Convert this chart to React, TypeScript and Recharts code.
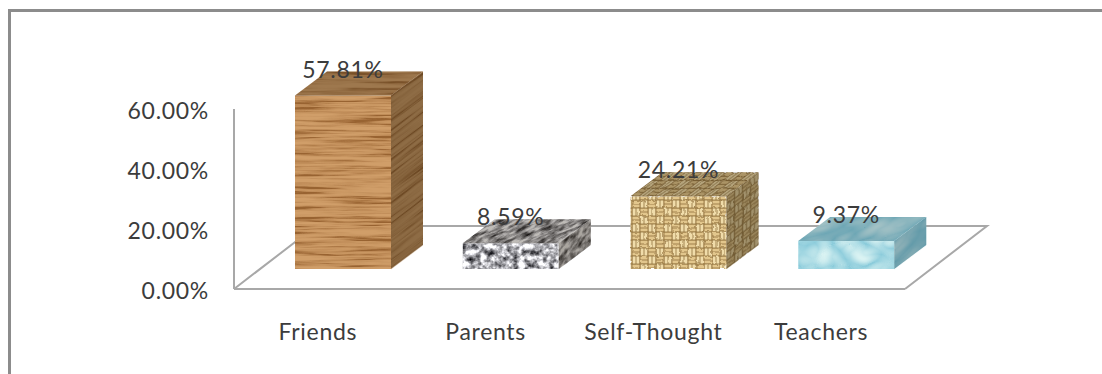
import { Bar, BarChart, LabelList, XAxis, YAxis, usePlotArea } from "recharts";

const categories = ["Friends", "Parents", "Self-Thought", "Teachers"];
const shares = [57.81, 8.59, 24.21, 9.37];
const yTicks = [0, 20, 40, 60];
const textures = ["wood", "granite", "weave", "water"];

const chartData = categories.map((name, i) => ({ name, share: shares[i], texture: textures[i] }));

const FONT = "Lato, sans-serif";
const LINE = "#a8a8a8";
const TEXT = "#3c3c3c";

// oblique offset of the box depth, and of the floor depth
const DEPTH_X = 32;
const DEPTH_Y = 24;
const FLOOR_X = 82;
const FLOOR_Y = 63;
// bars stand part way back on the floor
const BAR_SHIFT_X = 25;
const BAR_SHIFT_Y = -20;

const percent = (v: number) => `${v.toFixed(2)}%`;

const tickStyle = { fontFamily: FONT, fontSize: 23, letterSpacing: 0.7, fill: TEXT };

function Textures() {
  return (
    <defs>
      <filter id="wood" x="0" y="0" width="1" height="1" colorInterpolationFilters="sRGB">
        <feTurbulence type="fractalNoise" baseFrequency="0.012 0.3" numOctaves={4} seed={12} />
        <feColorMatrix
          type="matrix"
          values="0 0 0 0 0  0 0 0 0 0  0 0 0 0 0  1.6 0 0 0 -0.15"
          result="alpha"
        />
        <feComponentTransfer in="alpha" result="streaks">
          <feFuncA type="table" tableValues="0 0 0 0.1 0.32 0.8" />
        </feComponentTransfer>
        <feFlood floodColor="#d09e69" result="base" />
        <feFlood floodColor="#8a5423" />
        <feComposite in2="streaks" operator="in" result="dark" />
        <feMerge result="all">
          <feMergeNode in="base" />
          <feMergeNode in="dark" />
        </feMerge>
        <feComposite in="all" in2="SourceAlpha" operator="in" />
      </filter>
      <filter id="granite" x="0" y="0" width="1" height="1" colorInterpolationFilters="sRGB">
        <feTurbulence type="fractalNoise" baseFrequency="0.16" numOctaves={3} seed={11} />
        <feColorMatrix
          type="matrix"
          values="1.7 0 0 0 -0.17  1.7 0 0 0 -0.17  1.7 0 0 0 -0.15  0 0 0 0 1"
          result="all"
        />
        <feComposite in="all" in2="SourceAlpha" operator="in" />
      </filter>
      <filter id="water" x="0" y="0" width="1" height="1" colorInterpolationFilters="sRGB">
        <feTurbulence type="turbulence" baseFrequency="0.03 0.045" numOctaves={2} seed={4} />
        <feColorMatrix
          type="matrix"
          values="0.5 0 0 0 0.55  0.25 0 0 0 0.8  0.15 0 0 0 0.86  0 0 0 0 1"
          result="all"
        />
        <feComposite in="all" in2="SourceAlpha" operator="in" />
      </filter>
      <filter id="weaveMottle" x="0" y="0" width="1" height="1" colorInterpolationFilters="sRGB">
        <feTurbulence type="fractalNoise" baseFrequency="0.2" numOctaves={2} seed={3} result="noise" />
        <feDisplacementMap in="SourceGraphic" in2="noise" scale={3} />
      </filter>
      <pattern id="weaveTile" width="16" height="16" patternUnits="userSpaceOnUse">
        <rect width="16" height="16" fill="#8f6f3a" />
        <g fill="#e2c68c">
          <rect x="0.4" y="0.6" width="7.2" height="3" />
          <rect x="0.4" y="4.4" width="7.2" height="3" />
          <rect x="8.4" y="8.6" width="7.2" height="3" />
          <rect x="8.4" y="12.4" width="7.2" height="3" />
        </g>
        <g fill="#f0dcaa">
          <rect x="8.6" y="0.4" width="3" height="7.2" />
          <rect x="12.4" y="0.4" width="3" height="7.2" />
          <rect x="0.6" y="8.4" width="3" height="7.2" />
          <rect x="4.4" y="8.4" width="3" height="7.2" />
        </g>
      </pattern>
    </defs>
  );
}

function Floor() {
  const plot = usePlotArea();
  if (!plot) return null;
  const left = plot.x;
  const right = plot.x + plot.width;
  const bottom = plot.y + plot.height;
  const back = bottom - FLOOR_Y;
  return (
    <polyline
      points={`${left},${bottom} ${left + FLOOR_X},${back} ${right + FLOOR_X},${back} ${right},${bottom}`}
      fill="none"
      stroke={LINE}
      strokeWidth={2}
    />
  );
}

function textured(kind: string) {
  return kind === "weave"
    ? { fill: "url(#weaveTile)", filter: "url(#weaveMottle)" }
    : { fill: "#000", filter: `url(#${kind})` };
}

function Box(props: any) {
  const { x, y, width, height, payload } = props;
  const left = x + BAR_SHIFT_X;
  const top = y + BAR_SHIFT_Y;
  const right = left + width;
  const kind = payload.texture;
  const skewSide = `matrix(1 ${-DEPTH_Y / DEPTH_X} 0 1 ${right} ${top})`;
  const skewTop = `matrix(1 0 ${-DEPTH_X / DEPTH_Y} 1 ${left + DEPTH_X} ${top - DEPTH_Y})`;
  const shade = kind === "water" ? "#24505e" : "#2a2010";
  return (
    <g>
      <rect x={left} y={top} width={width} height={height} {...textured(kind)} />
      <rect transform={skewTop} width={width} height={DEPTH_Y} {...textured(kind)} />
      <rect transform={skewTop} width={width} height={DEPTH_Y} fill={shade} opacity={0.3} />
      <rect transform={skewSide} width={DEPTH_X} height={height} {...textured(kind)} />
      <rect transform={skewSide} width={DEPTH_X} height={height} fill={shade} opacity={0.4} />
    </g>
  );
}

function ValueLabel(props: any) {
  const { x, y, width, value } = props;
  return (
    <text
      x={x + BAR_SHIFT_X + width / 2}
      y={y + BAR_SHIFT_Y - 18}
      textAnchor="middle"
      fontFamily={FONT}
      fontSize={23}
      letterSpacing={0.7}
      fill={TEXT}
    >
      {percent(value)}
    </text>
  );
}

export default function App() {
  return (
    <div style={{ position: "absolute", left: 0, top: 0, width: 1102, height: 374, background: "#fff", overflow: "hidden" }}>
      <div style={{ position: "absolute", left: 8, top: 9, right: 0, bottom: 0, borderTop: "3px solid #8c8c8c", borderLeft: "3px solid #8c8c8c" }} />
      <div style={{ position: "absolute", left: 0, top: 0 }}>
        <BarChart
          width={1102}
          height={374}
          data={chartData}
          barSize={96}
          margin={{ top: 109, right: 197, bottom: 55, left: 0 }}
        >
          <Textures />
          <Floor />
          <XAxis
            dataKey="name"
            interval={0}
            tickLine={false}
            axisLine={{ stroke: LINE, strokeWidth: 2 }}
            tickMargin={29}
            tick={tickStyle}
          />
          <YAxis
            width={234}
            domain={[0, 60]}
            ticks={yTicks}
            tickFormatter={percent}
            tickLine={false}
            axisLine={{ stroke: LINE, strokeWidth: 2 }}
            tickMargin={19}
            tick={{ ...tickStyle, dy: 1.5 }}
          />
          <Bar dataKey="share" shape={Box} isAnimationActive={false}>
            <LabelList dataKey="share" content={ValueLabel} />
          </Bar>
        </BarChart>
      </div>
    </div>
  );
}
